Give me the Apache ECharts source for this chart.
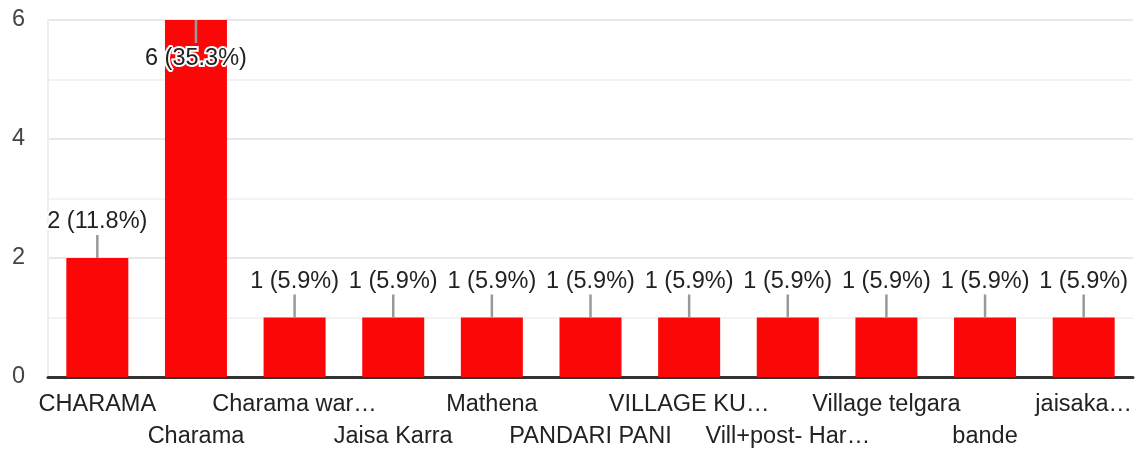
<!DOCTYPE html>
<html>
<head>
<meta charset="utf-8">
<title>Responses</title>
<script src="https://cdn.jsdelivr.net/npm/echarts@6/dist/echarts.min.js"></script>
<style>
  html, body { margin: 0; padding: 0; background: #fff; }
  #chart { width: 1136px; height: 453px; }
</style>
</head>
<body>
<div id="chart"></div>
<script>
var categories = [
  "CHARAMA",
  "Charama",
  "Charama war…",
  "Jaisa Karra",
  "Mathena",
  "PANDARI PANI",
  "VILLAGE KU…",
  "Vill+post- Har…",
  "Village telgara",
  "bande",
  "jaisaka…"
];
var counts = [2, 6, 1, 1, 1, 1, 1, 1, 1, 1, 1];
var yTicks = [0, 2, 4, 6];

(function () {
  var font = "'Liberation Sans', Arial, sans-serif";
  var total = counts.reduce(function (a, b) { return a + b; }, 0);
  var chart = echarts.init(document.getElementById("chart"));

  var labelData = counts.map(function (v, i) { return [i, v]; });

  var option = {
    animation: false,
    grid: { left: 48, right: 3, top: 20, bottom: 76 },
    xAxis: {
      type: "category",
      data: categories,
      axisLine: { lineStyle: { color: "#333", width: 3 } },
      axisTick: { show: false },
      axisLabel: {
        interval: 0,
        hideOverlap: false,
        margin: 12,
        color: "#222",
        fontFamily: font,
        fontSize: 23.5,
        lineHeight: 32,
        formatter: function (value, index) {
          return index % 2 === 0 ? value + "\n " : " \n" + value;
        }
      }
    },
    yAxis: {
      type: "value",
      min: 0,
      max: 6,
      interval: 1,
      axisLine: { show: true, lineStyle: { color: "#eeeeee", width: 2 } },
      axisTick: { show: false },
      axisLabel: {
        margin: 23,
        color: "#444",
        fontFamily: font,
        fontSize: 23.5,
        formatter: function (v) {
          return yTicks.indexOf(v) >= 0 ? String(v) : "";
        }
      },
      splitLine: {
        lineStyle: { color: ["#e8e8e8", "#f3f3f3"], width: 2 }
      }
    },
    series: [
      {
        type: "bar",
        data: counts,
        barWidth: 62,
        itemStyle: { color: "#fc0707" }
      },
      {
        type: "custom",
        data: labelData,
        encode: { x: 0, y: 1 },
        z: 10,
        clip: false,
        renderItem: function (params, api) {
          var idx = api.value(0);
          var v = api.value(1);
          var p = api.coord([idx, v]);
          var top = params.coordSys.y;
          var lineLen = 23;
          var text = v + " (" + (v / total * 100).toFixed(1) + "%)";
          var flip = p[1] - lineLen - 26 < top;
          var y2 = flip ? p[1] + lineLen : p[1] - lineLen;
          var ty = flip ? p[1] + lineLen + 16 : p[1] - lineLen - 13;
          return {
            type: "group",
            children: [
              {
                type: "line",
                shape: { x1: p[0], y1: p[1], x2: p[0], y2: y2 },
                style: { stroke: "#999", lineWidth: 2.5 }
              },
              {
                type: "text",
                x: p[0],
                y: ty,
                style: {
                  text: text,
                  fill: "#222",
                  font: "23.5px " + font,
                  align: "center",
                  verticalAlign: "middle",
                  stroke: "#fff",
                  lineWidth: 4
                }
              }
            ]
          };
        }
      }
    ]
  };
  chart.setOption(option);

  window.addEventListener("resize", function () {
    chart.resize();
  });
})();
</script>
</body>
</html>
